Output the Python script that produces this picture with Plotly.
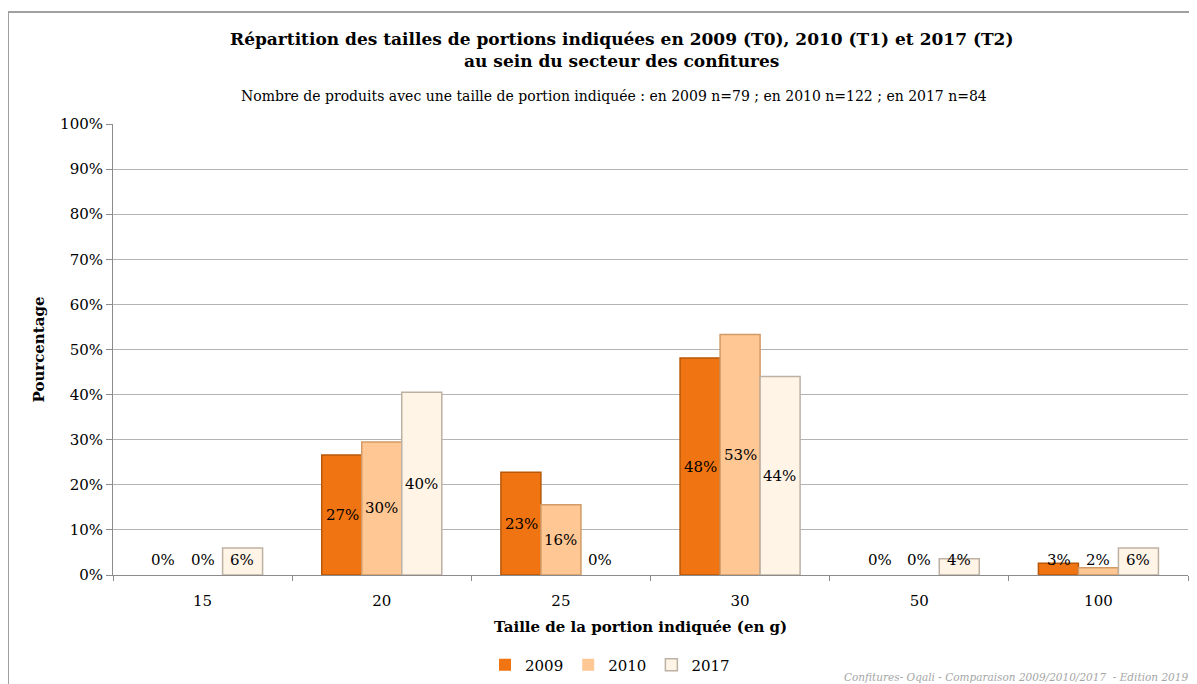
"""Répartition des tailles de portions - confitures (Oqali)."""

import plotly.graph_objects as go

categories = ["15", "20", "25", "30", "50", "100"]
years = ["2009", "2010", "2017"]
pct_2009 = [0, 26.6, 22.8, 48.1, 0, 2.6]
pct_2010 = [0, 29.5, 15.6, 53.3, 0, 1.6]
pct_2017 = [6.0, 40.5, 0, 44.0, 3.6, 6.0]
y_ticks = [0, 10, 20, 30, 40, 50, 60, 70, 80, 90, 100]

series = [pct_2009, pct_2010, pct_2017]
fills = ["#F07412", "#FFC794", "#FFF4E6"]
edges = ["#B85808", "#D29A66", "#BDB1A4"]
shifts = [-39.5, 0, 39.5]

FONT = "DejaVu Serif"
OFF = 8  # page body margin: the figure starts at (8, 8) on screen
W, H = 1197 - OFF, 684 - OFF
# plot area on screen: x 113..1188, y 124..575
L, T = 113 - OFF, 124 - OFF
R, B = W - (1188 - OFF), H - (575 - OFF)
pw, ph = W - L - R, H - T - B


def px(x):
    """screen x -> paper x"""
    return (x - OFF - L) / pw


def py(y):
    """screen y -> paper y"""
    return (H - B - (y - OFF)) / ph


fig = go.Figure()
for year, vals, fill, edge in zip(years, series, fills, edges):
    fig.add_trace(
        go.Bar(
            name=year,
            x=categories,
            y=vals,
            marker=dict(
                color=fill,
                # no outline on empty bars
                line=dict(color=edge, width=[1.5 if v > 0 else 0 for v in vals]),
            ),
        )
    )

# data labels, centred in the bar but kept off the baseline (like Excel)
annotations = []
for vals, dx in zip(series, shifts):
    for i, v in enumerate(vals):
        annotations.append(
            dict(
                x=i, y=max(v / 2, 3.3), xref="x", yref="y",
                xanchor="center", yanchor="middle",
                text=f"{v:.0f}%", showarrow=False, xshift=dx,
                font=dict(family=FONT, size=15, color="#000000"),
            )
        )

annotations += [
    dict(
        x=px(621), y=py(50), xref="paper", yref="paper", showarrow=False,
        xanchor="center", yanchor="middle",
        text="<b>Répartition des tailles de portions indiquées en 2009 (T0), 2010 (T1) et 2017 (T2)"
             "<br>au sein du secteur des confitures</b>",
        font=dict(family=FONT, size=17, color="#000000"),
    ),
    dict(
        x=px(614), y=py(96), xref="paper", yref="paper", showarrow=False,
        xanchor="center", yanchor="middle",
        text="Nombre de produits avec une taille de portion indiquée : en 2009 n=79 ; en 2010 n=122 ; en 2017 n=84",
        font=dict(family=FONT, size=14, color="#000000"),
    ),
    dict(
        x=px(38), y=0.5, xref="paper", yref="paper", showarrow=False, textangle=-90,
        xanchor="center", yanchor="middle",
        text="<b>Pourcentage</b>", font=dict(family=FONT, size=15, color="#000000"),
    ),
    dict(
        x=px(640), y=py(627), xref="paper", yref="paper", showarrow=False,
        xanchor="center", yanchor="middle",
        text="<b>Taille de la portion indiquée (en g)</b>",
        font=dict(family=FONT, size=15, color="#000000"),
    ),
    dict(
        x=px(1190), y=py(677), xref="paper", yref="paper", showarrow=False,
        xanchor="right", yanchor="middle",
        text="<i>Confitures- Oqali - Comparaison 2009/2010/2017  - Edition 2019</i>",
        font=dict(family=FONT, size=10.5, color="#A6A6A6"),
    ),
]

fig.update_layout(
    width=W,
    height=H,
    margin=dict(l=L, r=R, t=T, b=B, autoexpand=False),
    paper_bgcolor="white",
    plot_bgcolor="white",
    barmode="group",
    bargap=0.33,
    bargroupgap=0,
    font=dict(family=FONT, size=15, color="#000000"),
    showlegend=True,
    legend=dict(
        orientation="h", x=px(610), y=py(665), xanchor="center", yanchor="middle",
        font=dict(family=FONT, size=15), itemwidth=30,
    ),
    annotations=annotations,
    shapes=[
        dict(
            type="rect", xref="paper", yref="paper",
            x0=px(8), x1=1.05, y0=-0.4, y1=py(12),
            line=dict(color="#A0A0A0", width=2), layer="below",
        )
    ],
    xaxis=dict(
        type="category",
        showline=True, linecolor="#8C8C8C", linewidth=1,
        ticks="outside", tickson="boundaries", ticklen=5, tickcolor="#8C8C8C",
        ticklabelstandoff=12,
        showgrid=False,
        tickfont=dict(family=FONT, size=15),
    ),
    yaxis=dict(
        range=[0, 100], tickvals=y_ticks, ticktext=[f"{t}%" for t in y_ticks],
        showline=True, linecolor="#8C8C8C", linewidth=1,
        ticks="outside", ticklen=6, tickcolor="#8C8C8C",
        gridcolor="#B4B4B4", gridwidth=1, zeroline=False,
        tickfont=dict(family=FONT, size=15),
    ),
)

fig.write_html("out.html")
